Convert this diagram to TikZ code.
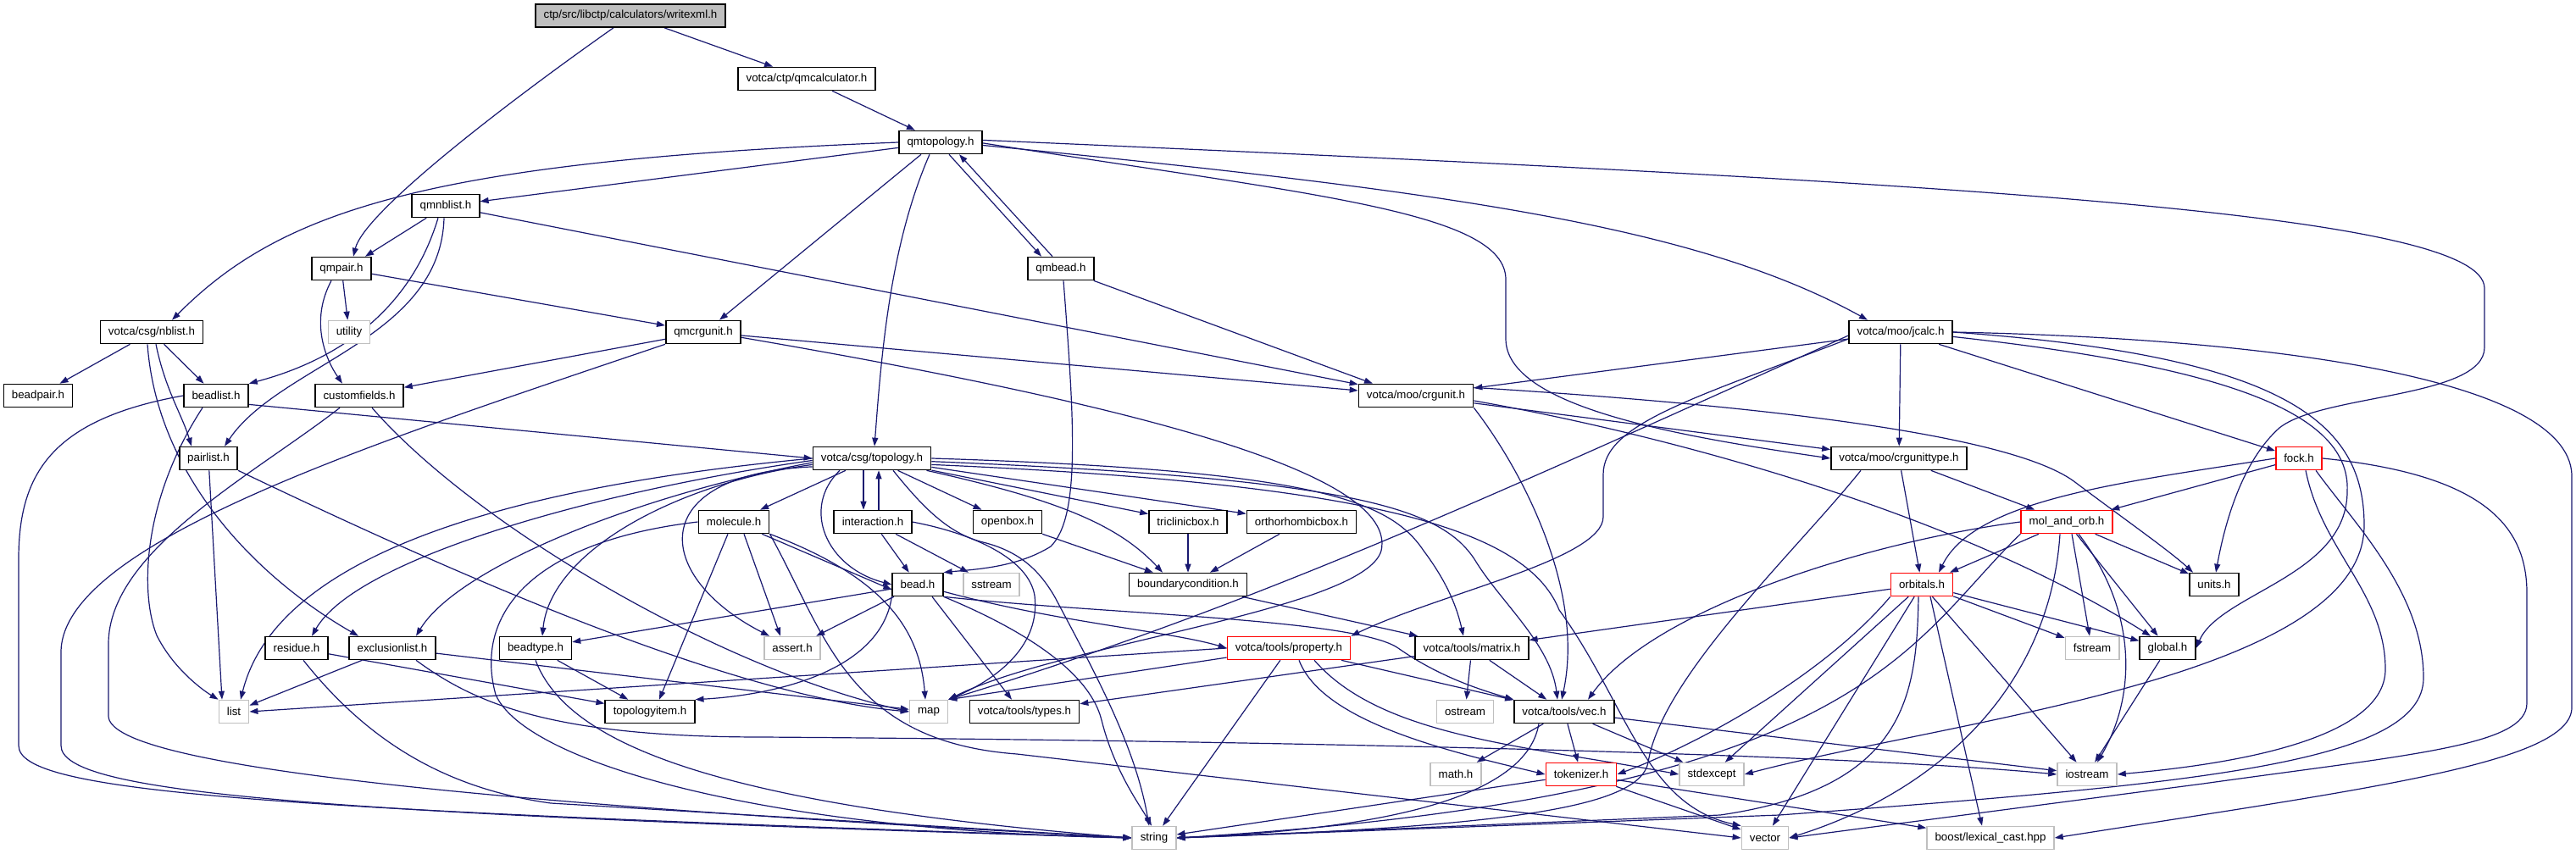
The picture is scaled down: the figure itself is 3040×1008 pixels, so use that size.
\documentclass[tikz,border=0pt]{standalone}
\usepackage{fontspec}
\setmainfont{Liberation Sans}
\usetikzlibrary{arrows.meta}
\definecolor{edgec}{HTML}{191970}
\definecolor{sysc}{HTML}{BFBFBF}
\definecolor{rootc}{HTML}{BFBFBF}
\definecolor{redc}{HTML}{FF0000}
\pgfdeclarelayer{bg}
\pgfsetlayers{bg,main}
\begin{document}
\begin{tikzpicture}[x=1pt,y=-1pt,
  nd/.style={draw=black,line width=1.6pt,fill=white,rectangle,minimum height=27pt,inner xsep=9.5pt,inner ysep=0pt,font=\fontsize{13.3pt}{16pt}\selectfont},
  sysn/.style={nd,draw=sysc},
  redn/.style={nd,draw=redc},
  rootn/.style={nd,fill=rootc},
  dep/.style={draw=edgec,line width=1.2pt,-{Triangle[length=10pt,width=7pt]}}]
\useasboundingbox (0,0) rectangle (3040,1008);
% row 0-5
\node[rootn] (wx) at (744,18.5) {ctp/src/libctp/calculators/writexml.h};
\node[nd] (qmc) at (952,93) {votca/ctp/qmcalculator.h};
\node[nd] (qmt) at (1110,168) {qmtopology.h};
\node[nd] (qmnb) at (526,243) {qmnblist.h};
\node[nd] (qmpair) at (403,317) {qmpair.h};
\node[nd] (qmbead) at (1252,317) {qmbead.h};
\node[nd] (nbl) at (179,392) {votca/csg/nblist.h};
\node[sysn] (util) at (412,392) {utility};
\node[nd] (qmcrg) at (830,392) {qmcrgunit.h};
\node[nd] (jcalc) at (2243,392) {votca/moo/jcalc.h};
% row 6-7
\node[nd] (bpair) at (45,467) {beadpair.h};
\node[nd] (blist) at (255,467) {beadlist.h};
\node[nd] (cfields) at (424,467) {customfields.h};
\node[nd] (crgunit) at (1671,467) {votca/moo/crgunit.h};
\node[nd] (plist) at (246,541) {pairlist.h};
\node[nd] (topo) at (1029,541) {votca/csg/topology.h};
\node[nd] (crgtype) at (2241,541) {votca/moo/crgunittype.h};
\node[redn] (fock) at (2713,541) {fock.h};
% row 8-9
\node[nd] (molec) at (866,616) {molecule.h};
\node[nd] (inter) at (1030,616) {interaction.h};
\node[nd] (obox) at (1189,616) {openbox.h};
\node[nd] (tbox) at (1402,616) {triclinicbox.h};
\node[nd] (obbox) at (1536,616) {orthorhombicbox.h};
\node[redn] (mao) at (2439,616) {mol\_and\_orb.h};
\node[nd] (bead) at (1083,690) {bead.h};
\node[sysn] (sstream) at (1170,690) {sstream};
\node[nd] (bcond) at (1402,690) {boundarycondition.h};
\node[redn] (orbs) at (2268,690) {orbitals.h};
\node[nd] (units) at (2613,690) {units.h};
% row 10
\node[nd] (resid) at (350,765) {residue.h};
\node[nd] (excl) at (463,765) {exclusionlist.h};
\node[nd] (btype) at (632,765) {beadtype.h};
\node[sysn] (assert) at (935,765) {assert.h};
\node[redn] (prop) at (1521,765) {votca/tools/property.h};
\node[nd] (matrix) at (1737,765) {votca/tools/matrix.h};
\node[sysn] (fstream) at (2469,765) {fstream};
\node[nd] (global) at (2558,765) {global.h};
% row 11
\node[sysn] (list) at (276,840) {list};
\node[nd] (titem) at (767,840) {topologyitem.h};
\node[sysn] (map) at (1096,840) {map};
\node[nd] (types) at (1209,840) {votca/tools/types.h};
\node[sysn] (ostream) at (1729,840) {ostream};
\node[nd] (vec) at (1846,840) {votca/tools/vec.h};
% row 12-13
\node[sysn] (mathh) at (1718,914) {math.h};
\node[redn] (tok) at (1866,914) {tokenizer.h};
\node[sysn] (stdexc) at (2020,914) {stdexcept};
\node[sysn] (iostream) at (2463,914) {iostream};
\node[sysn] (string) at (1362,989) {string};
\node[sysn] (vector) at (2083,989) {vector};
\node[sysn] (boost) at (2349,989) {boost/lexical\_cast.hpp};

\begin{pgfonlayer}{bg}
\fill[white] (0,0) rectangle (3040,1008);
% top part
\draw[dep] (wx) -- (qmc);
\draw[dep] ([xshift=-20pt]wx.south) .. controls (600,120) and (430,250) .. ([xshift=14pt]qmpair.north);
\draw[dep] (qmc) -- (qmt);
\draw[dep] (qmt) -- (qmnb);
\draw[dep] (qmt.west) .. controls (500,190) and (330,250) .. ([xshift=24pt]nbl.north);
\draw[dep] ([xshift=10pt]qmt.south) -- ([xshift=-23pt]qmbead.north);
\draw[dep] ([xshift=-10pt]qmbead.north) -- ([xshift=22pt]qmt.south);
\draw[dep] ([xshift=-23pt]qmt.south) -- ([xshift=19pt]qmcrg.north);
\draw[dep] ([xshift=-13pt]qmt.south) .. controls (1050,290) and (1040,420) .. ([xshift=3pt]topo.north);
\draw[dep] (qmt.-4) .. controls (1700,225) and (2000,265) .. ([xshift=-39pt]jcalc.north);
\draw[dep] (qmt.-1) .. controls (1550,230) and (1777,250) .. (1777,330) -- (1777,400) .. controls (1777,480) and (1980,515) .. (crgtype.west);
\draw[dep] (qmt.3) .. controls (2300,215) and (2930,250) .. (2932,340) -- (2932,410) .. controls (2932,470) and (2740,465) .. (2690,505) .. controls (2645,545) and (2625,620) .. ([xshift=2pt]units.north);
% qmnblist
\draw[dep] (qmnb) -- ([xshift=28pt]qmpair.north);
\draw[dep] ([xshift=-9pt]qmnb.south) .. controls (480,380) and (380,430) .. (blist.north east);
\draw[dep] ([xshift=-2pt]qmnb.south) .. controls (520,400) and (330,430) .. ([xshift=19pt]plist.north);
\draw[dep] (qmnb) -- (crgunit);
% qmpair
\draw[dep] (qmpair) -- (util);
\draw[dep] (qmpair) -- (qmcrg);
\draw[dep] ([xshift=-12pt]qmpair.south) .. controls (365,380) and (385,425) .. ([xshift=-20pt]cfields.north);
% qmbead
\draw[dep] ([xshift=3pt]qmbead.south) .. controls (1268,500) and (1275,610) .. (1240,645) .. controls (1200,670) and (1150,672) .. (bead.north east);
\draw[dep] (qmbead) -- ([xshift=-51pt]crgunit.north);
% nblist
\draw[dep] (nbl) -- (bpair);
\draw[dep] (nbl) -- (blist);
\draw[dep] ([xshift=5pt]nbl.south) .. controls (195,460) and (215,490) .. ([xshift=-20pt]plist.north);
\draw[dep] ([xshift=-5pt]nbl.south) .. controls (185,560) and (300,680) .. ([xshift=-40pt]excl.north);
% beadlist
\draw[dep] (blist.-15) -- (topo.west);
\draw[dep] ([xshift=-16pt]blist.south) .. controls (168,590) and (165,700) .. (185,750) .. controls (205,790) and (240,815) .. (list.north west);
\draw[dep] (blist.west) .. controls (60,495) and (22,560) .. (22,660) -- (22,880) .. controls (22,935) and (300,955) .. (string.west);
% customfields
\draw[dep] ([xshift=-23pt]cfields.south) .. controls (300,560) and (128,650) .. (128,760) -- (128,845) .. controls (128,900) and (500,945) .. (string.west);
\draw[dep] ([xshift=15pt]cfields.south) .. controls (560,620) and (850,790) .. (map.west);
% qmcrgunit
\draw[dep] (qmcrg) -- (cfields);
\draw[dep] (qmcrg) -- (crgunit);
\draw[dep] (qmcrg.south west) .. controls (450,520) and (72,640) .. (72,770) -- (72,880) .. controls (72,935) and (350,960) .. (string.west);
\draw[dep] (qmcrg.-8) .. controls (1350,480) and (1650,560) .. (1630,650) .. controls (1610,720) and (1250,760) .. (map.north east);
% pairlist
\draw[dep] (plist) -- ([xshift=-14pt]list.north);
\draw[dep] (plist.south east) .. controls (500,660) and (850,820) .. (map.west);
% topology
\draw[dep] (topo) -- (molec);
\draw[dep] ([xshift=-10pt]topo.south) -- ([xshift=-11pt]inter.north);
\draw[dep] ([xshift=7pt]inter.north) -- ([xshift=8pt]topo.south);
\draw[dep] (topo) -- (obox);
\draw[dep] (topo) -- (tbox);
\draw[dep] (topo) -- (obbox);
\draw[dep] (topo) .. controls (1250,590) and (1320,620) .. ([xshift=-30pt]bcond.north);
\draw[dep] ([xshift=-38pt]topo.south) .. controls (945,600) and (975,670) .. (bead.west);
\draw[dep] (topo.west) .. controls (650,570) and (330,640) .. ([xshift=8pt]list.north);
\draw[dep] (topo.182) .. controls (700,580) and (420,660) .. ([xshift=18pt]resid.north);
\draw[dep] (topo.184) .. controls (750,585) and (540,670) .. ([xshift=28pt]excl.north);
\draw[dep] (topo.186) .. controls (800,570) and (650,650) .. ([xshift=8pt]btype.north);
\draw[dep] (topo.188) .. controls (760,560) and (770,680) .. ([xshift=-27pt]assert.north);
\draw[dep] (topo.east) .. controls (1550,555) and (1640,590) .. (1680,650) .. controls (1710,690) and (1720,720) .. ([xshift=-10pt]matrix.north);
\draw[dep] (topo.-3) .. controls (1600,565) and (1700,600) .. (1740,660) .. controls (1770,710) and (1830,760) .. ([xshift=-8pt]vec.north);
\draw[dep] (topo.-6) .. controls (1600,570) and (1800,620) .. (1840,720) .. controls (1920,830) and (1940,950) .. (vector.north west);
\draw[dep] ([xshift=25pt]topo.south) .. controls (1090,600) and (1120,630) .. (1160,640) .. controls (1200,650) and (1225,670) .. (1245,705) .. controls (1290,790) and (1340,880) .. ([xshift=-6pt]string.north);
% molecule
\draw[dep] (molec) -- ([yshift=-6pt]bead.west);
\draw[dep] ([xshift=12pt]molec.south) -- ([xshift=-14pt]assert.north);
\draw[dep] ([xshift=-7pt]molec.south) -- ([xshift=11pt]titem.north);
\draw[dep] (molec.west) .. controls (620,640) and (560,730) .. (585,820) .. controls (620,900) and (900,980) .. (string.west);
\draw[dep] (molec.south east) .. controls (975,750) and (1000,875) .. (1200,890) -- (vector.west);
\draw[dep] (molec.south east) .. controls (1040,680) and (1085,740) .. ([xshift=-4pt]map.north);
% interaction
\draw[dep] (inter) -- (bead);
\draw[dep] (inter) -- (sstream);
\draw[dep] (inter.east) .. controls (1150,630) and (1214,660) .. (1221,703) .. controls (1228,760) and (1180,800) .. (map.north east);
% boxes
\draw[dep] (obox) -- (bcond);
\draw[dep] (tbox) -- (bcond);
\draw[dep] (obbox) -- (bcond);
\draw[dep] (bcond) -- (matrix);
% bead
\draw[dep] (bead) -- (btype);
\draw[dep] (bead.south west) .. controls (1040,790) and (920,820) .. (titem.north east);
\draw[dep] (bead) -- (assert);
\draw[dep] ([xshift=17pt]bead.south) -- ([xshift=-15pt]types.north);
\draw[dep] (bead.-15) .. controls (1250,735) and (1380,745) .. (prop.west);
\draw[dep] (bead.-25) .. controls (1300,725) and (1600,730) .. (1650,765) .. controls (1700,800) and (1750,815) .. (vec.north west);
\draw[dep] (bead.south east) .. controls (1200,740) and (1285,790) .. (1300,850) .. controls (1315,910) and (1345,950) .. ([xshift=-3pt]string.north);
% residue, exclusionlist, beadtype
\draw[dep] (resid) -- (titem);
\draw[dep] ([xshift=8pt]resid.south) .. controls (430,870) and (520,930) .. (650,948) -- (string.west);
\draw[dep] (excl) -- (list);
\draw[dep] (excl) -- (map);
\draw[dep] ([xshift=28pt]excl.south) .. controls (560,830) and (650,870) .. (900,870) .. controls (1600,875) and (2200,892) .. (iostream.west);
\draw[dep] (btype) -- (titem);
\draw[dep] (btype.south) .. controls (670,880) and (850,950) .. (string.west);
% property
\draw[dep] (prop) -- (map.north east);
\draw[dep] (prop.west) -- (list.east);
\draw[dep] (prop) -- (string);
\draw[dep] ([xshift=12pt]prop.south) .. controls (1560,850) and (1700,885) .. (tok.west);
\draw[dep] ([xshift=30pt]prop.south) .. controls (1630,870) and (1800,880) .. (stdexc.west);
\draw[dep] (prop) -- (vec);
% matrix
\draw[dep] (matrix) -- (ostream);
\draw[dep] (matrix) -- (vec);
\draw[dep] (matrix) -- (types);
% vec
\draw[dep] (vec) -- (mathh);
\draw[dep] (vec) -- (tok);
\draw[dep] (vec) -- (stdexc);
\draw[dep] (vec) -- (iostream);
\draw[dep] ([xshift=-30pt]vec.south) .. controls (1800,950) and (1600,980) .. (string.east);
% tokenizer
\draw[dep] (tok) -- (string);
\draw[dep] (tok) -- (vector);
\draw[dep] (tok) -- (boost);
% crgunit
\draw[dep] (crgunit) -- (crgtype);
\draw[dep] (crgunit.8) .. controls (2100,480) and (2380,515) .. (2450,570) .. controls (2510,615) and (2560,650) .. ([xshift=-25pt]units.north);
\draw[dep] (crgunit.-5) .. controls (1950,510) and (2300,600) .. ([xshift=-20pt]global.north);
\draw[dep] (crgunit.south east) .. controls (1800,560) and (1870,700) .. ([xshift=-3pt]vec.north);
% crgunittype
\draw[dep] (crgtype) -- (mao);
\draw[dep] (crgtype) -- (orbs);
\draw[dep] ([xshift=-45pt]crgtype.south) .. controls (2120,650) and (1960,800) .. (1945,900) .. controls (1935,950) and (1800,975) .. (string.east);
% fock
\draw[dep] (fock) -- (mao);
\draw[dep] (fock.west) .. controls (2500,570) and (2330,590) .. ([xshift=20pt]orbs.north);
\draw[dep] ([xshift=8pt]fock.south) .. controls (2740,650) and (2815,700) .. (2815,790) .. controls (2815,880) and (2600,905) .. (iostream.east);
\draw[dep] ([xshift=20pt]fock.south) .. controls (2780,620) and (2860,700) .. (2860,800) .. controls (2860,900) and (2600,925) .. (2100,962) -- (string.east);
\draw[dep] (fock.east) .. controls (2930,560) and (2982,620) .. (2982,700) -- (2982,830) .. controls (2982,880) and (2850,890) .. (2600,925) -- (vector.east);
% mol_and_orb
\draw[dep] (mao) -- (orbs);
\draw[dep] (mao) -- (units);
\draw[dep] (mao) -- (global);
\draw[dep] ([xshift=6pt]mao.south) -- ([xshift=-3pt]fstream.north);
\draw[dep] ([xshift=14pt]mao.south) .. controls (2522,720) and (2522,820) .. ([xshift=12pt]iostream.north);
\draw[dep] (mao.west) .. controls (2200,640) and (1950,720) .. ([xshift=28pt]vec.north);
\draw[dep] (mao.south west) .. controls (2250,760) and (2200,940) .. (string.east);
\draw[dep] ([xshift=-8pt]mao.south) .. controls (2420,800) and (2300,930) .. (vector.east);
% orbitals
\draw[dep] (orbs) -- (matrix);
\draw[dep] (orbs) -- (fstream);
\draw[dep] (orbs) -- (global);
\draw[dep] (orbs) -- (iostream);
\draw[dep] (orbs) -- (stdexc);
\draw[dep] ([xshift=10pt]orbs.south) -- ([xshift=-10pt]boost.north);
\draw[dep] (orbs) -- (vector);
\draw[dep] (orbs.south west) .. controls (2150,800) and (2000,880) .. (tok.east);
\draw[dep] ([xshift=-4pt]orbs.south) .. controls (2262,820) and (2250,930) .. (2030,962) -- (string.east);
% global
\draw[dep] (global) -- (iostream);
% jcalc
\draw[dep] (jcalc) -- (crgunit);
\draw[dep] (jcalc) -- (crgtype);
\draw[dep] (jcalc) -- (fock);
\draw[dep] ([yshift=-4pt]jcalc.west) .. controls (1750,590) and (1480,715) .. (map.north east);
\draw[dep] ([yshift=-8pt]jcalc.west) .. controls (2000,470) and (1892,500) .. (1892,560) -- (1892,610) .. controls (1892,660) and (1700,700) .. (prop.north east);
\draw[dep] (jcalc.east) .. controls (2700,420) and (2790,500) .. (2790,620) .. controls (2790,800) and (2300,850) .. (stdexc.east);
\draw[dep] (jcalc.east) .. controls (2700,400) and (3030,450) .. (3035,560) -- (3035,835) .. controls (3035,900) and (2800,930) .. (boost.east);
\draw[dep] (jcalc.-5) .. controls (2600,430) and (2775,480) .. (2770,580) .. controls (2770,680) and (2620,700) .. (global.east);
\end{pgfonlayer}
\end{tikzpicture}
\end{document}
